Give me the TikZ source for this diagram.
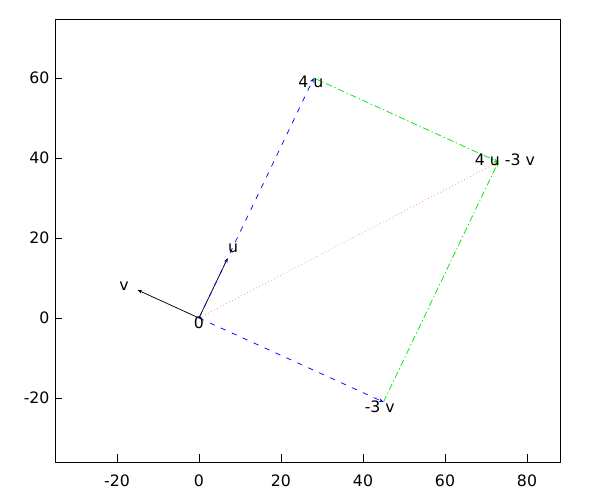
\documentclass[tikz,border=0pt]{standalone}
\usepackage{fontspec}
\setmainfont{DejaVu Sans}
\usetikzlibrary{arrows.meta}
\definecolor{gblue}{RGB}{0,0,255}
\definecolor{ggreen}{RGB}{0,230,0}
\definecolor{gpink}{RGB}{255,140,140}
\begin{document}
\begin{tikzpicture}[x=1pt,y=1pt,
  lbl/.style={font=\fontsize{11.8}{14}\selectfont, inner sep=0pt},
  vec/.style={line width=0.55pt,-{Stealth[length=3.5pt,width=2.6pt]}},
  tk/.style={line width=0.6pt}]
\useasboundingbox (0,0) rectangle (450,375);
\begin{scope}[shift={(149.25,136.5)},x=3.075pt,y=3pt]
  % frame
  \draw[line width=0.7pt] (-35.12,-36) rectangle (88.05,74.75);
  % ticks
  \foreach \xv in {-20,0,20,40,60,80}{
    \draw[tk] (\xv,-36) -- ++(0,2.1);
    \node[lbl] (xl\xv) at (\xv,-40.8) {\xv};
  }
  \foreach \yv in {-20,0,20,40,60}{
    \draw[tk] (-35.12,\yv) -- ++(1.8,0);
    \node[lbl,anchor=east] (yl\yv) at (-36.4,\yv) {\yv};
  }
  % points
  \coordinate (O) at (0,0);
  \coordinate (U) at (7,15);
  \coordinate (V) at (-15,7);
  \coordinate (U4) at (28,60);
  \coordinate (V3) at (45,-21);
  \coordinate (S) at (73,39);
  % vectors
  \draw[vec,black] (O) -- (U);
  \draw[vec,black] (O) -- (V);
  \draw[vec,gpink,dotted] (O) -- (S);
  \draw[vec,gblue,dash pattern=on 4pt off 5pt] (O) -- (U4);
  \draw[vec,gblue,dash pattern=on 4pt off 5pt] (O) -- (V3);
  \draw[vec,ggreen,dash pattern=on 5pt off 2pt on 1pt off 2pt] (U4) -- (S);
  \draw[vec,ggreen,dash pattern=on 5pt off 2pt on 1pt off 2pt] (V3) -- (S);
  % labels
  \node[lbl] (lu) at (8.3,17.5) {u};
  \node[lbl] (lv) at (-18.3,8) {v};
  \node[lbl] (lo) at (0,-1.3) {0};
  \node[lbl] (l4u) at (27.3,59) {4 u};
  \node[lbl] (ls) at (74.6,39.5) {4 u -3 v};
  \node[lbl] (l3v) at (44.1,-22.2) {-3 v};
\end{scope}
\end{tikzpicture}
\end{document}
